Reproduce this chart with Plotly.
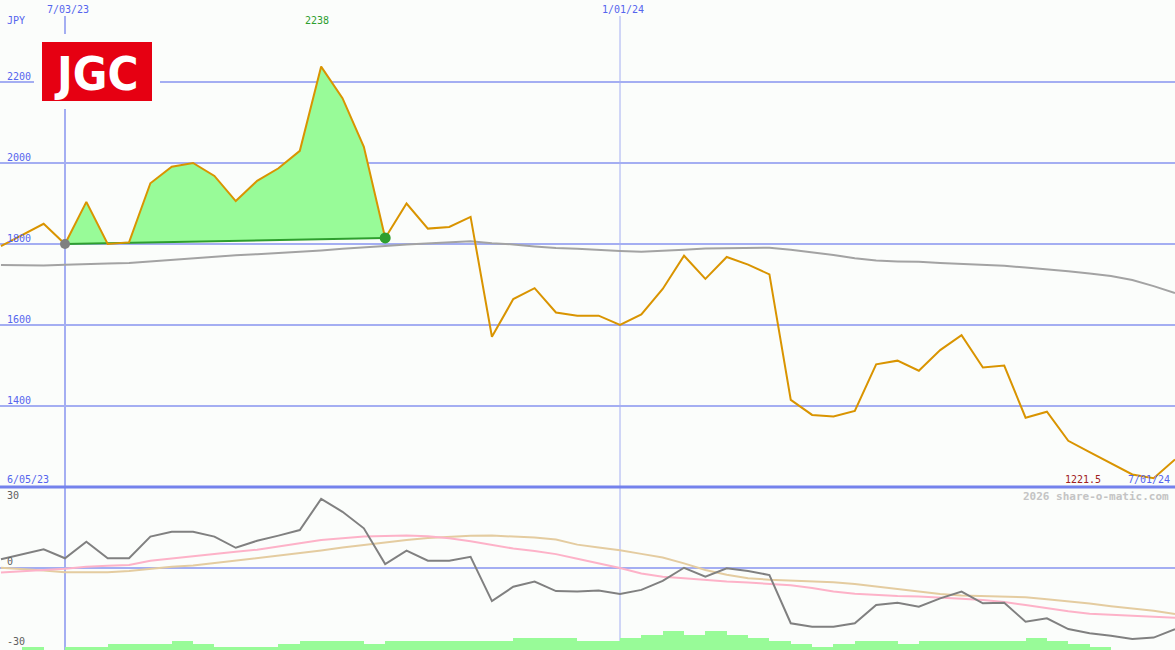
import pandas as pd
import plotly.graph_objects as go

# ---------------- data ----------------
dates = list(pd.date_range("2023-06-12", "2024-07-01", freq="7D"))

price = [1795, 1822, 1850, 1800, 1904, 1800, 1804, 1950, 1991, 2000,
         1968, 1906, 1956, 1987, 2030, 2238, 2160, 2040, 1815, 1900,
         1838, 1842, 1867, 1571, 1664, 1691, 1631, 1623, 1623, 1600,
         1626, 1689, 1771, 1714, 1768, 1749, 1725, 1415, 1378, 1374,
         1388, 1503, 1512, 1487, 1538, 1575, 1495, 1500, 1371, 1386,
         1314, 1286, 1258, 1231, 1221.5, 1268]

ma_long = [1748, 1748, 1747, 1749, 1751, 1752, 1753, 1757, 1760, 1764,
           1768, 1772, 1775, 1778, 1780, 1784, 1788, 1791, 1795, 1799,
           1802, 1805, 1807, 1802, 1799, 1794, 1790, 1788, 1785, 1783,
           1781, 1783, 1786, 1789, 1790, 1790, 1791, 1786, 1780, 1773,
           1765, 1759, 1757, 1756, 1753, 1751, 1748, 1746, 1742, 1738,
           1733, 1727, 1721, 1711, 1696, 1679]

osc = [3.6, 5.8, 7.7, 4.0, 10.8, 4.0, 4.0, 12.9, 14.9, 14.9,
       12.9, 8.3, 11.2, 13.3, 15.6, 28.4, 23.1, 16.3, 1.6, 7.1,
       3.0, 3.0, 4.6, -13.6, -7.7, -5.6, -9.5, -9.7, -9.3, -10.7,
       -9.0, -5.3, 0.1, -3.6, -0.1, -1.2, -2.9, -22.7, -24.1, -24.1,
       -22.7, -15.2, -14.3, -15.9, -12.5, -9.7, -14.5, -14.3, -22.1, -20.7,
       -25.1, -26.8, -27.8, -29.2, -28.6, -25.1]

osc_pink = [-1.9, -1.5, -0.8, -0.3, 0.5, 0.9, 1.2, 3.0, 4.0, 5.0,
            5.8, 6.7, 7.5, 9.0, 10.2, 11.5, 12.3, 12.9, 13.1, 13.3,
            13.0, 12.2, 11.0, 9.6, 8.0, 7.0, 5.7, 3.8, 2.0, 0.0,
            -2.3, -3.6, -4.2, -5.0, -5.6, -6.0, -6.4, -7.1, -8.2, -9.7,
            -10.6, -11.2, -11.5, -11.7, -12.0, -12.6, -13.2, -14.0, -15.2, -16.6,
            -17.8, -18.8, -19.2, -19.4, -19.7, -20.4]

osc_tan = [0.1, -0.3, -1.0, -1.8, -1.8, -1.8, -1.2, -0.2, 0.5, 1.0,
           2.0, 3.0, 3.9, 5.0, 6.0, 7.2, 8.4, 9.5, 10.5, 11.5,
           12.3, 12.9, 13.2, 13.3, 13.0, 12.5, 11.7, 9.6, 8.4, 7.3,
           5.8, 4.3, 1.9, -0.8, -2.8, -4.2, -4.8, -5.1, -5.4, -5.9,
           -6.6, -7.6, -8.7, -9.8, -10.7, -11.3, -11.6, -11.8, -12.0, -12.8,
           -13.6, -14.6, -15.7, -16.6, -17.6, -18.9]

volume = [0, 3, 0, 3, 3, 6, 6, 6, 9, 6,
          3, 3, 3, 6, 9, 9, 9, 6, 9, 9,
          9, 9, 9, 9, 12, 12, 12, 9, 9, 12,
          15, 19, 15, 19, 15, 12, 9, 6, 3, 6,
          9, 9, 6, 9, 9, 9, 9, 9, 12, 9,
          6, 3, 0, 0, 0]

price_ticks = [1400, 1600, 1800, 2000, 2200]
osc_ticks = [30, 0, -30]
osc_label_shift = [-1, 6, 0]
date_marks = ["2023-07-03", "2024-01-01"]
date_mark_labels = ["7/03/23", "1/01/24"]
start_label = "6/05/23"
end_label = "7/01/24"
trend_start = 3   # index of grey dot
trend_end = 18    # index of green dot
peak_idx = 15
low_idx = 54

# ---------------- style ----------------
W, H = 1175, 650
BG = "#FBFDFB"
GRID = "#A4AEF2"
SEP = "#7482EC"
BLUE_TXT = "#5565EE"
ORANGE = "#D99400"
GREEN = "#2E9E2E"
PALE = "#98FB98"
FONT = "DejaVu Sans Mono"

X0 = pd.Timestamp("2023-07-03") - pd.Timedelta(days=21.315)
X1 = pd.Timestamp("2024-07-01")


def px(x):
    return x / W


def py(y):
    return 1 - y / H


fig = go.Figure()

# volume bars (lower panel), spanning each week
bar_x = [d + pd.Timedelta(days=3.5) for d in dates[:-1]]
fig.add_trace(go.Bar(x=bar_x, y=volume, width=7 * 24 * 3600 * 1000,
                     marker=dict(color=PALE, line=dict(width=0)),
                     yaxis="y3", hoverinfo="skip"))

# oscillator lines
fig.add_trace(go.Scatter(x=dates, y=osc_tan, mode="lines",
                         line=dict(color="#E4CCA0", width=2),
                         yaxis="y2"))
fig.add_trace(go.Scatter(x=dates, y=osc_pink, mode="lines",
                         line=dict(color="#FDB2C8", width=2),
                         yaxis="y2"))
fig.add_trace(go.Scatter(x=dates, y=osc, mode="lines",
                         line=dict(color="#808080", width=2),
                         yaxis="y2"))

# green fill between trend line and price
tx = [dates[trend_start], dates[trend_end]]
ty = [price[trend_start], price[trend_end]]
fig.add_trace(go.Scatter(x=tx, y=ty, mode="lines",
                         line=dict(color=GREEN, width=0), yaxis="y"))
fig.add_trace(go.Scatter(x=dates[trend_start:trend_end + 1],
                         y=price[trend_start:trend_end + 1], mode="lines",
                         line=dict(width=0), fill="tonexty", fillcolor=PALE,
                         yaxis="y"))

# long moving average
fig.add_trace(go.Scatter(x=dates, y=ma_long, mode="lines",
                         line=dict(color="#A3A3A3", width=2), yaxis="y"))

# trend line
fig.add_trace(go.Scatter(x=tx, y=ty, mode="lines",
                         line=dict(color=GREEN, width=2), yaxis="y"))

# price line
fig.add_trace(go.Scatter(x=dates, y=price, mode="lines",
                         line=dict(color=ORANGE, width=2), yaxis="y"))

# dots
fig.add_trace(go.Scatter(x=[dates[trend_start]], y=[price[trend_start]],
                         mode="markers", marker=dict(color="#808080", size=10),
                         yaxis="y"))
fig.add_trace(go.Scatter(x=[dates[trend_end]], y=[price[trend_end]],
                         mode="markers", marker=dict(color=GREEN, size=11),
                         yaxis="y"))

shapes = []
# vertical date lines
for d, w in zip(date_marks, [2, 1]):
    shapes.append(dict(type="line", xref="x", yref="paper", x0=d, x1=d,
                       y0=0, y1=py(16), line=dict(color=GRID, width=w),
                       layer="below"))
# separator line at price 1200
shapes.append(dict(type="line", xref="paper", yref="paper", x0=0, x1=1,
                   y0=py(487), y1=py(487), line=dict(color=SEP, width=3)))
# logo
shapes.append(dict(type="rect", xref="paper", yref="paper",
                   x0=px(34), x1=px(160), y0=py(109), y1=py(34),
                   fillcolor=BG, line=dict(width=0), layer="above"))
shapes.append(dict(type="rect", xref="paper", yref="paper",
                   x0=px(42), x1=px(152), y0=py(101), y1=py(42),
                   fillcolor="#E60012", line=dict(width=0), layer="above"))

ann = []


def text(x, y, s, color, size=10, anchor="left", bold=False, font=FONT):
    ann.append(dict(xref="paper", yref="paper", x=px(x), y=py(y),
                    text=("<b>%s</b>" % s) if bold else s, showarrow=False,
                    xanchor=anchor, yanchor="middle",
                    font=dict(family=font, size=size, color=color)))


text(96, 73, "JGC", "white", size=47, anchor="center", bold=True,
     font="DejaVu Sans Condensed")
text(5, 21, "JPY", BLUE_TXT)
for d, lab in zip(date_marks, date_mark_labels):
    ann.append(dict(xref="x", yref="paper", x=d, y=py(10), text=lab,
                    showarrow=False, xanchor="center", yanchor="middle",
                    xshift=3, font=dict(family=FONT, size=10, color=BLUE_TXT)))
for t in price_ticks:
    ann.append(dict(xref="paper", yref="y", x=px(5), y=t, text=str(t),
                    showarrow=False, xanchor="left", yanchor="middle",
                    yshift=6, font=dict(family=FONT, size=10, color=BLUE_TXT)))
ann.append(dict(xref="x", yref="paper", x=dates[peak_idx], y=py(21),
                text=str(price[peak_idx]), showarrow=False, xanchor="center",
                yanchor="middle", xshift=-4,
                font=dict(family=FONT, size=10, color=GREEN)))
ann.append(dict(xref="paper", yref="paper", x=px(1103), y=py(479),
                text=str(price[low_idx]), showarrow=False, xanchor="right",
                yanchor="middle", font=dict(family=FONT, size=10, color="#A02020")))
text(5, 479, start_label, BLUE_TXT)
text(1172, 479, end_label, BLUE_TXT, anchor="right")
text(1171, 496, "2026 share-o-matic.com", "#C4C4C4", size=11, anchor="right",
     bold=True)
for t, s in zip(osc_ticks, osc_label_shift):
    ann.append(dict(xref="paper", yref="y2", x=px(5), y=t, text=str(t),
                    showarrow=False, xanchor="left", yanchor="middle",
                    yshift=s,
                    font=dict(family=FONT, size=10, color="#606060")))

fig.update_layout(
    width=W, height=H,
    margin=dict(l=0, r=0, t=0, b=0),
    paper_bgcolor=BG, plot_bgcolor=BG,
    showlegend=False, bargap=0,
    shapes=shapes, annotations=ann,
    xaxis=dict(type="date", range=[X0, X1], showgrid=False, zeroline=False,
               showticklabels=False, fixedrange=True),
    yaxis=dict(range=[797.5, 2402.5], tickvals=price_ticks, showgrid=True,
               gridcolor=GRID, gridwidth=2, zeroline=False,
               showticklabels=False, domain=[0, 1]),
    yaxis2=dict(range=[-33.7, 233.4], overlaying="y", tickvals=[0],
                showgrid=True, gridcolor=GRID, gridwidth=2, zeroline=False,
                showticklabels=False),
    yaxis3=dict(range=[0, 650], overlaying="y", visible=False,
                showgrid=False, zeroline=False),
)

fig.write_html(
    "out.html",
    config={"displayModeBar": False},
    post_script="document.body.style.margin='0';document.body.style.overflow='hidden';",
)
